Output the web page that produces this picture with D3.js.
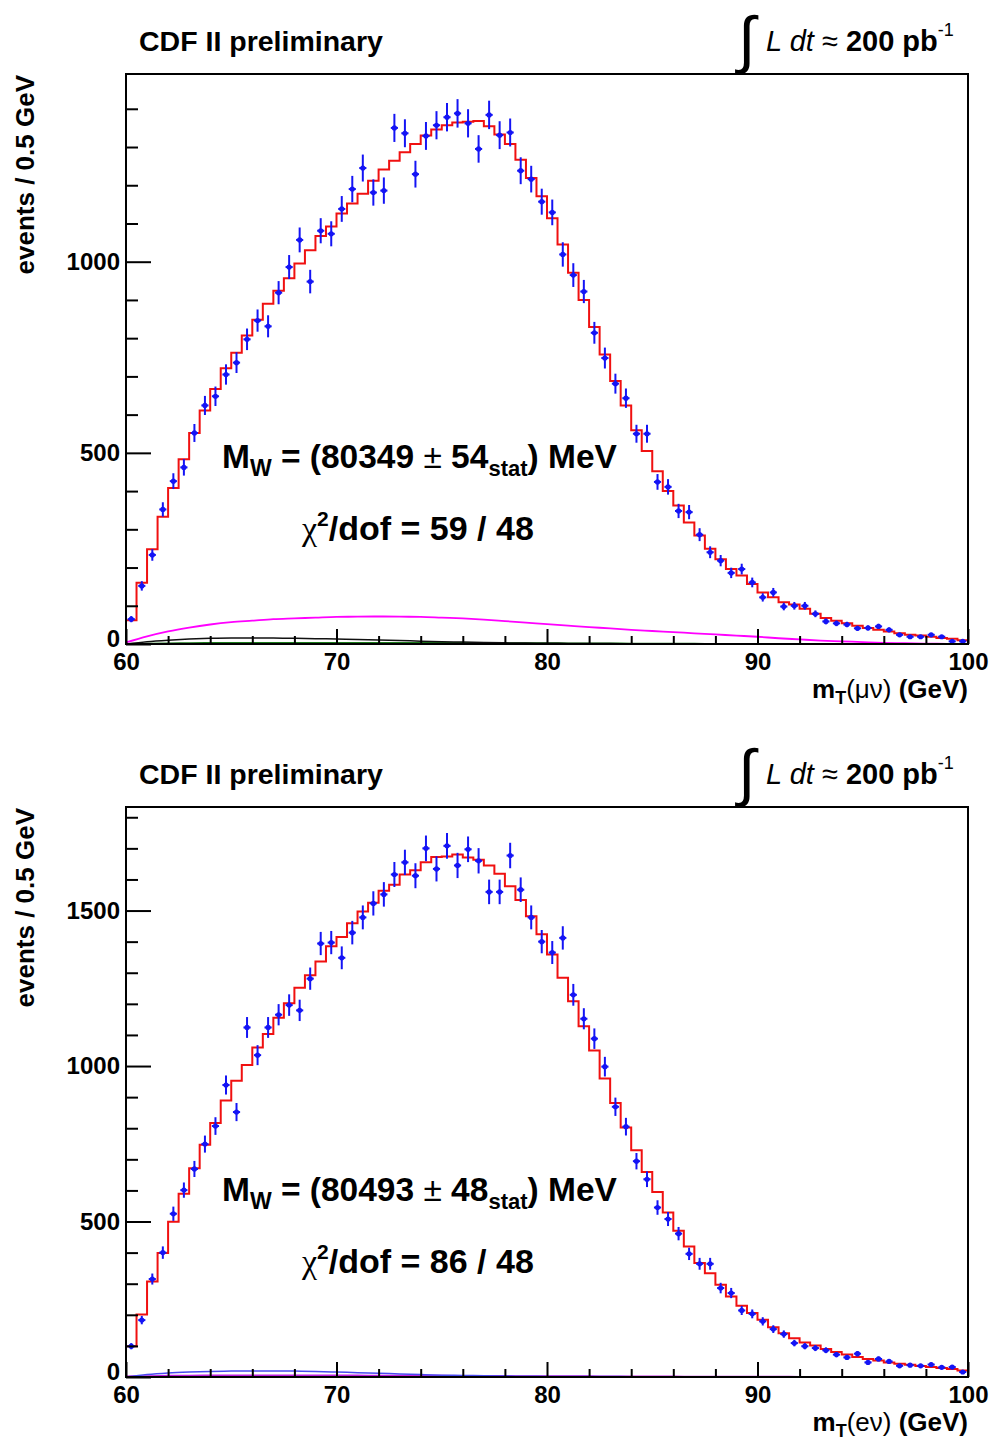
<!DOCTYPE html>
<html><head><meta charset="utf-8">
<script src="https://cdn.jsdelivr.net/npm/d3@7"></script>
<style>
body{margin:0;background:#fff}
svg{display:block}
text{font-family:"Liberation Sans",Arial,Helvetica,sans-serif;fill:#000}
</style>
</head><body>
<svg id="chart" width="994" height="1441"></svg>
<script>
// ---- binning (80 bins of 0.5 GeV from 60 to 100) ----
const xMin = 60, xMax = 100, binWidth = 0.5;
const xMajorTicks = [60, 70, 80, 90, 100];
const xMinorTicks = [62, 64, 66, 68, 72, 74, 76, 78, 82, 84, 86, 88, 92, 94, 96, 98];

// ---- muon channel (top) ----
const muData = [65,152,233,352,426,462,552,624,648,705,
  736,797,846,831,919,986,1057,948,1081,1073,
  1138,1190,1245,1181,1186,1350,1336,1229,1329,1357,
  1378,1388,1362,1295,1384,1331,1338,1238,1216,1157,
  1129,1019,965,922,814,748,681,643,550,550,
  424,411,348,345,286,240,218,186,196,161,
  122,135,98,100,100,79,59,54,51,41,
  42,46,37,24,19,19,24,19,7,7];
const muFit = [62,160,248,333,408,483,552,611,667,721,
  762,807,848,890,924,957,995,1030,1067,1092,
  1126,1152,1178,1212,1241,1264,1286,1308,1330,1346,
  1357,1364,1366,1368,1354,1333,1308,1267,1219,1171,
  1114,1045,971,900,829,757,688,624,559,505,
  452,400,362,318,284,249,222,196,179,157,
  135,122,109,103,92,79,68,61,54,48,
  42,37,33,28,24,22,19,16,14,10];
const bkgMass = [60,61,62,63,64,65,66,67,68,69,70,71,72,73,74,75,76,77,78,79,80,
  81,82,83,84,85,86,87,88,89,90,91,92,93,94,95,96,97,98,99,100];
const muBkgMagenta = [4,20,33,43,51,57,61,65,67,69,71,71.5,72,71.5,71,69,67,64,60,56,52,
  48,44,41,37,34,31,28,25,22,19,15,12,9,7,5,3,2,1,0.5,0];
const muBkgBlack = [0,6,10,13,15,16,16,15.5,15,14,13,12,10.5,9,7.5,6,5,4,3,2.5,2,
  1.5,1.2,1,0.8,0.6,0.5,0.4,0.3,0.25,0.2,0.15,0.1,0.1,0.1,0,0,0,0,0,0];
const muBkgGreen = [0,1,2,2.5,3,3,3,3,3,3,3,3,3,3,3,3,3,3,2.8,2.6,2.4,
  2.2,2,1.8,1.6,1.4,1.2,1,0.8,0.6,0.5,0.4,0.3,0.2,0.1,0,0,0,0,0,0];
const muYMajor = [0, 500, 1000];
const muYMinor = [100,200,300,400,600,700,800,900,1100,1200,1300,1400];

// ---- electron channel (bottom) ----
const eData = [99,183,315,400,525,601,669,749,807,939,
  852,1124,1035,1124,1165,1196,1179,1281,1394,1397,
  1348,1429,1478,1523,1552,1616,1655,1612,1700,1634,
  1708,1645,1697,1660,1560,1560,1677,1567,1478,1400,
  1365,1412,1229,1152,1088,998,869,805,694,636,
  545,508,461,396,364,364,286,270,214,203,
  179,154,138,109,99,93,86,72,63,75,
  47,58,50,36,38,36,40,31,32,16];
const eFit = [99,201,307,399,499,589,671,747,817,889,
  953,1003,1060,1103,1155,1202,1252,1292,1336,1385,
  1415,1459,1497,1525,1564,1583,1616,1630,1655,1672,
  1674,1680,1671,1663,1645,1618,1578,1534,1482,1424,
  1359,1284,1208,1128,1050,960,881,802,729,659,
  595,529,470,420,367,334,297,259,229,206,
  184,160,141,125,111,101,90,80,72,64,
  58,53,47,43,39,35,32,29,26,21];
const eBkgBlue = [0,8,13,16,18,19,19.5,19.5,19,18,16,14,12,10,8,6,5,4,3,2.5,2,
  1.8,1.6,1.4,1.2,1,0.9,0.8,0.7,0.6,0.5,0.4,0.3,0.2,0.1,0,0,0,0,0,0];
const eBkgMagenta = [2,3,4,4.5,5,5,5,5,5,5,5,4.8,4.6,4.4,4.2,4,3.8,3.5,3.2,3,2.8,
  2.6,2.4,2.2,2,1.8,1.6,1.4,1.2,1,0.9,0.8,0.7,0.6,0.5,0.4,0.3,0.2,0.1,0.05,0];
const eYMajor = [0, 500, 1000, 1500];
const eYMinor = [100,200,300,400,600,700,800,900,1100,1200,1300,1400,1600,1700,1800];

const svg = d3.select("#chart");

function panel(cfg) {
  const g = svg.append("g");
  const x = d3.scaleLinear().domain([xMin, xMax]).range([126, 968]);
  const y = d3.scaleLinear().domain([0, cfg.ymax]).range([cfg.bottom, cfg.top]);
  const clipId = "clip" + cfg.id;
  g.append("clipPath").attr("id", clipId).append("rect")
    .attr("x", x(xMin)).attr("y", y(cfg.ymax))
    .attr("width", x(xMax) - x(xMin)).attr("height", y(0) - y(cfg.ymax));
  const plot = g.append("g").attr("clip-path", `url(#${clipId})`);

  // background curves
  const curve = d3.line().x((d, i) => x(bkgMass[i])).y(d => y(d)).curve(d3.curveMonotoneX);
  cfg.bkg.forEach(b => {
    plot.append("path").datum(b.values).attr("d", curve)
      .attr("fill", "none").attr("stroke", b.color).attr("stroke-width", b.width);
  });

  // fit histogram (step outline)
  const steps = [[xMin, 0]];
  cfg.fit.forEach((v, i) => {
    const lo = xMin + i * binWidth;
    steps.push([lo, v], [lo + binWidth, v]);
  });
  steps.push([xMax, 0]);
  plot.append("path").datum(steps)
    .attr("d", d3.line().x(d => x(d[0])).y(d => y(d[1])))
    .attr("fill", "none").attr("stroke", "#f01010").attr("stroke-width", 2);

  // data points with errors
  const pts = plot.append("g").attr("stroke", "#1414f5").attr("fill", "#1414f5");
  cfg.data.forEach((v, i) => {
    const c = xMin + (i + 0.5) * binWidth;
    const e = Math.sqrt(v);
    pts.append("line").attr("x1", x(c)).attr("x2", x(c))
      .attr("y1", y(v - e)).attr("y2", y(v + e)).attr("stroke-width", 2);
    pts.append("line").attr("x1", x(c - 0.17)).attr("x2", x(c + 0.17))
      .attr("y1", y(v)).attr("y2", y(v)).attr("stroke-width", 2);
    pts.append("circle").attr("cx", x(c)).attr("cy", y(v)).attr("r", 2.6).attr("stroke", "none");
  });

  // y axis
  const yMajorAxis = g.append("g").attr("transform", "translate(126,0)")
    .call(d3.axisLeft(y).tickValues(cfg.yMajor).tickSize(-25).tickPadding(6).tickFormat(d3.format("d")));
  const yMinorAxis = g.append("g").attr("transform", "translate(126,0)")
    .call(d3.axisLeft(y).tickValues(cfg.yMinor).tickSize(-12).tickFormat(""));
  // x axis
  const xMajorAxis = g.append("g").attr("transform", `translate(0,${cfg.bottom})`)
    .call(d3.axisBottom(x).tickValues(xMajorTicks).tickSize(-15).tickPadding(9).tickFormat(d3.format("d")));
  const xMinorAxis = g.append("g").attr("transform", `translate(0,${cfg.bottom})`)
    .call(d3.axisBottom(x).tickValues(xMinorTicks).tickSize(-8).tickFormat(""));
  [yMajorAxis, yMinorAxis, xMajorAxis, xMinorAxis].forEach(a => {
    a.select(".domain").remove();
    a.selectAll("line").attr("stroke", "#000").attr("stroke-width", 2);
    a.selectAll("text").attr("font-family", "Liberation Sans, Arial, sans-serif")
      .attr("font-size", 24).attr("font-weight", "bold").attr("fill", "#000");
  });
  // lift the "0" label slightly, as in the reference
  yMajorAxis.selectAll(".tick text").filter(d => d === 0).attr("dy", "0.1em");

  // frame
  g.append("rect").attr("x", x(xMin)).attr("y", y(cfg.ymax))
    .attr("width", x(xMax) - x(xMin)).attr("height", y(0) - y(cfg.ymax))
    .attr("fill", "none").attr("stroke", "#000").attr("stroke-width", 2);

  const t0 = cfg.top; // text offset reference

  // title texts
  g.append("text").attr("x", 139).attr("y", t0 - 23)
    .attr("font-size", 28.5).attr("font-weight", "bold").text("CDF II preliminary");

  g.append("text").attr("x", 738).attr("y", t0 - 13)
    .attr("font-family", "Liberation Serif, serif").attr("font-size", 63).text("\u222B");
  const lum = g.append("text").attr("x", 766).attr("y", t0 - 23).attr("font-size", 29);
  lum.append("tspan").attr("font-style", "italic").text("L dt");
  lum.append("tspan").text(" \u2248 ");
  lum.append("tspan").attr("font-weight", "bold").text("200 pb");
  lum.append("tspan").attr("font-size", 18).attr("dy", -15).text("-1");

  // y title
  g.append("text").attr("transform", `translate(34,${t0 + 1}) rotate(-90)`)
    .attr("text-anchor", "end").attr("font-size", 26).attr("font-weight", "bold")
    .text("events / 0.5 GeV");

  // x title
  const xt = g.append("text").attr("x", 968).attr("y", cfg.bottom + 54)
    .attr("text-anchor", "end").attr("font-size", 26).attr("font-weight", "bold");
  xt.append("tspan").text("m");
  xt.append("tspan").attr("font-size", 18).attr("dy", 6).text("T");
  xt.append("tspan").attr("dy", -6).attr("font-weight", "normal").text(cfg.xLabel);
  xt.append("tspan").text(" (GeV)");

  // fit result
  const mw = g.append("text").attr("x", 222).attr("y", t0 + 394)
    .attr("font-size", 33.5).attr("font-weight", "bold");
  mw.append("tspan").text("M");
  mw.append("tspan").attr("font-size", 23).attr("dy", 8).text("W");
  mw.append("tspan").attr("dy", -8).text(" = (" + cfg.mass + " ");
  mw.append("tspan").attr("font-weight", "normal").text("\u00B1");
  mw.append("tspan").text(" " + cfg.err);
  mw.append("tspan").attr("font-size", 22).attr("dy", 8).text("stat");
  mw.append("tspan").attr("dy", -8).text(") MeV");

  const chi = g.append("text").attr("x", 302).attr("y", t0 + 466)
    .attr("font-size", 34).attr("font-weight", "bold");
  chi.append("tspan").attr("font-weight", "normal").attr("font-family", "Liberation Serif, serif").text("\u03C7");
  chi.append("tspan").attr("font-size", 21).attr("dy", -14).text("2");
  chi.append("tspan").attr("dy", 14).text("/dof = " + cfg.chi2 + " / " + cfg.dof);
}

panel({
  id: "mu", top: 74, bottom: 644, ymax: 1491,
  data: muData, fit: muFit,
  bkg: [
    { values: muBkgGreen, color: "#1a7a1a", width: 1.5 },
    { values: muBkgBlack, color: "#111", width: 1.5 },
    { values: muBkgMagenta, color: "#ff00ff", width: 1.8 }
  ],
  yMajor: muYMajor, yMinor: muYMinor,
  xLabel: "(\u03BC\u03BD)", mass: "80349", err: "54", chi2: "59", dof: "48"
});

panel({
  id: "e", top: 807, bottom: 1377, ymax: 1833,
  data: eData, fit: eFit,
  bkg: [
    { values: eBkgMagenta, color: "#c020e0", width: 1.8 },
    { values: eBkgBlue, color: "#4a4af0", width: 1.5 }
  ],
  yMajor: eYMajor, yMinor: eYMinor,
  xLabel: "(e\u03BD)", mass: "80493", err: "48", chi2: "86", dof: "48"
});
</script>
</body></html>
